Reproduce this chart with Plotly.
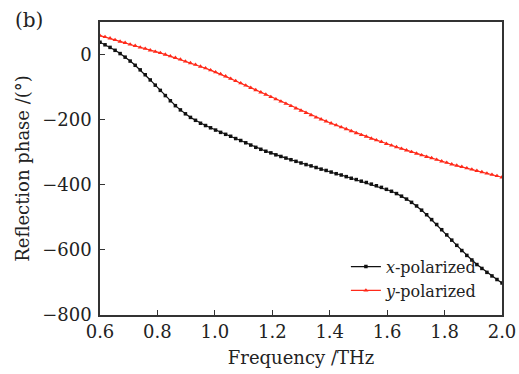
import plotly.graph_objects as go

freq_start = 0.6
freq_step = 0.0175
n_points = 81
freq = [round(freq_start + freq_step * i, 4) for i in range(n_points)]

x_polarized = [38, 30, 22, 13, 3, -8, -20, -33, -47, -62,
               -78, -94, -110, -126, -142, -157, -170, -182, -193, -202,
               -211, -218, -225, -232, -239, -245, -251, -258, -264, -271,
               -278, -285, -291, -297, -302, -308, -313, -318, -323, -328,
               -333, -338, -342, -347, -352, -356, -361, -366, -370, -375,
               -380, -384, -389, -393, -398, -403, -408, -414, -420, -427,
               -435, -444, -454, -465, -478, -492, -507, -522, -538, -554,
               -570, -586, -602, -617, -631, -645, -657, -669, -680, -691,
               -702]

y_polarized = [58, 54, 50, 45, 40, 36, 31, 27, 22, 18,
               13, 9, 5, 0, -5, -10, -15, -21, -26, -31,
               -37, -42, -48, -54, -60, -67, -74, -81, -88, -95,
               -102, -109, -116, -123, -130, -137, -144, -151, -158, -165,
               -172, -179, -186, -193, -199, -205, -211, -217, -223, -229,
               -235, -241, -247, -252, -258, -263, -268, -274, -279, -284,
               -289, -294, -299, -304, -309, -314, -318, -323, -328, -332,
               -337, -341, -345, -349, -353, -357, -361, -365, -369, -373,
               -377]

x_ticks = [0.6, 0.8, 1.0, 1.2, 1.4, 1.6, 1.8, 2.0]
x_ticklabels = ["0.6", "0.8", "1.0", "1.2", "1.4", "1.6", "1.8", "2.0"]
y_ticks = [0, -200, -400, -600, -800]

font_family = "DejaVu Serif, Liberation Serif, serif"
fs = 18

fig = go.Figure()
fig.add_trace(go.Scatter(
    x=freq, y=x_polarized, mode="lines+markers",
    name="<i>x</i>-polarized",
    line=dict(color="#111111", width=1.2),
    marker=dict(symbol="square", size=3.5, color="#111111"),
))
fig.add_trace(go.Scatter(
    x=freq, y=y_polarized, mode="lines+markers",
    name="<i>y</i>-polarized",
    line=dict(color="#ff2a1a", width=1.2),
    marker=dict(symbol="triangle-up", size=4.5, color="#ff2a1a"),
))

fig.update_layout(
    width=519, height=374,
    margin=dict(l=100, r=17, t=22, b=59, autoexpand=False),
    paper_bgcolor="white", plot_bgcolor="white",
    font=dict(family=font_family, size=fs, color="#222222"),
    showlegend=True,
    legend=dict(
        x=0.95, y=0.025, xanchor="right", yanchor="bottom",
        bgcolor="rgba(0,0,0,0)", font=dict(size=16, family=font_family),
        tracegroupgap=0, itemwidth=30,
    ),
    annotations=[dict(
        text="(b)", x=0, y=1, xref="paper", yref="paper",
        xanchor="right", yanchor="middle", xshift=-55, yshift=2,
        showarrow=False, font=dict(size=20, family=font_family),
    )],
)

fig.update_xaxes(
    range=[0.6, 2.0], tickvals=x_ticks, ticktext=x_ticklabels,
    ticks="inside", ticklen=5, tickwidth=1.2, tickcolor="#333333",
    showline=True, linewidth=1.5, linecolor="#333333", mirror=True,
    showgrid=False, zeroline=False, automargin=False,
    title=dict(text="Frequency /THz", font=dict(size=fs), standoff=10),
    tickfont=dict(size=fs),
)
fig.update_yaxes(
    range=[-800, 100], tickvals=y_ticks,
    ticks="inside", ticklen=5, tickwidth=1.2, tickcolor="#333333",
    showline=True, linewidth=1.5, linecolor="#333333", mirror=True,
    showgrid=False, zeroline=False, automargin=False,
    ticklabelstandoff=3,
    title=dict(text="Reflection phase /(°)", font=dict(size=fs), standoff=8),
    tickfont=dict(size=fs),
)

fig.write_html("out.html")
